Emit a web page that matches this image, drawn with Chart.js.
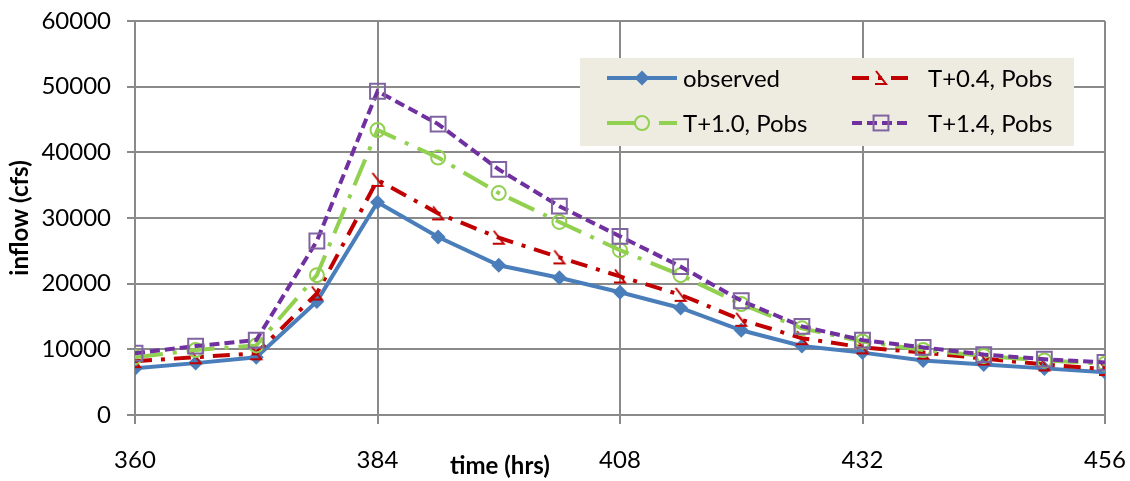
<!DOCTYPE html>
<html lang="en">
<head>
  <meta charset="UTF-8" />
  <title>Inflow vs time</title>
  <script src="https://cdn.jsdelivr.net/npm/chart.js"></script>
  <style>
    body {
      margin: 0;
      background: #ffffff;
    }

    .chart-container {
      width: 1130px;
      height: 481px;
    }
  </style>
</head>
<body>
  <div class="chart-container">
    <canvas id="flowChart"></canvas>
  </div>

  <script>
    // hours and inflow (cfs)
    const hours = [360, 366, 372, 378, 384, 390, 396, 402, 408, 414, 420, 426, 432, 438, 444, 450, 456];
    const observed = [7100, 7900, 8800, 17300, 32400, 27100, 22800, 20900, 18700, 16300, 12900, 10500, 9500, 8300, 7700, 7100, 6500];
    const tPlus04 = [8200, 8800, 9400, 18500, 35800, 30700, 27000, 24000, 21100, 18300, 14500, 11700, 10300, 9500, 8600, 7700, 7000];
    const tPlus10 = [8800, 9900, 10600, 21300, 43400, 39200, 33800, 29400, 25100, 21300, 16900, 13200, 11200, 9900, 9000, 8300, 7800];
    const tPlus14 = [9400, 10500, 11400, 26500, 49300, 44300, 37400, 31800, 27200, 22600, 17400, 13500, 11400, 10300, 9200, 8500, 8000];
    const seriesNames = ['observed', 'T+0.4, Pobs', 'T+1.0, Pobs', 'T+1.4, Pobs'];

    const FONT = 'Lato, "Open Sans", sans-serif';
    const gridColor = '#8a8a8a';

    // open triangle marker, only two sides show like in the original
    const triMarker = document.createElement('canvas');
    triMarker.width = 20;
    triMarker.height = 20;
    (function () {
      const c = triMarker.getContext('2d');
      c.strokeStyle = '#c00000';
      c.lineWidth = 2;
      c.beginPath();
      c.moveTo(5, 3);
      c.lineTo(15, 16);
      c.lineTo(4, 16);
      c.stroke();
    })();

    const toPts = arr => arr.map((v, i) => ({ x: hours[i], y: v }));

    const datasets = [
      {
        label: seriesNames[0],
        data: toPts(observed),
        borderColor: '#4a7ebb',
        backgroundColor: '#4a7ebb',
        borderWidth: 4,
        pointStyle: 'rectRot',
        pointRadius: 7.5,
        pointBorderWidth: 0,
        order: 3
      },
      {
        label: seriesNames[1],
        data: toPts(tPlus04),
        borderColor: '#c00000',
        borderWidth: 4,
        borderDash: [17, 9, 4, 9],
        pointStyle: triMarker,
        pointRadius: 8,
        order: 2
      },
      {
        label: seriesNames[2],
        data: toPts(tPlus10),
        borderColor: '#92d050',
        borderWidth: 4,
        borderDash: [28, 10, 4, 10],
        pointStyle: 'circle',
        pointRadius: 7,
        pointBorderWidth: 2,
        pointBackgroundColor: 'rgba(0,0,0,0)',
        pointBorderColor: '#92d050',
        order: 1
      },
      {
        label: seriesNames[3],
        data: toPts(tPlus14),
        borderColor: '#7030a0',
        borderWidth: 4,
        borderDash: [10, 5],
        pointStyle: 'rect',
        pointRadius: 10.5,
        pointBorderWidth: 2,
        pointBackgroundColor: 'rgba(0,0,0,0)',
        pointBorderColor: '#8064a2',
        order: 0
      }
    ];

    function drawMarker(ctx, ds, x, y) {
      ctx.save();
      ctx.setLineDash([]);
      if (ds.pointStyle === triMarker) {
        ctx.drawImage(triMarker, x - 10, y - 10);
      } else if (ds.pointStyle === 'rectRot') {
        const r = ds.pointRadius;
        ctx.fillStyle = ds.backgroundColor;
        ctx.beginPath();
        ctx.moveTo(x, y - r);
        ctx.lineTo(x + r, y);
        ctx.lineTo(x, y + r);
        ctx.lineTo(x - r, y);
        ctx.closePath();
        ctx.fill();
      } else if (ds.pointStyle === 'circle') {
        ctx.strokeStyle = ds.pointBorderColor;
        ctx.lineWidth = 2;
        ctx.fillStyle = '#eeebe1';
        ctx.beginPath();
        ctx.arc(x, y, ds.pointRadius, 0, Math.PI * 2);
        ctx.fill();
        ctx.stroke();
      } else {
        const s = ds.pointRadius * Math.SQRT1_2;
        ctx.strokeStyle = ds.pointBorderColor;
        ctx.lineWidth = 2;
        ctx.strokeRect(x - s, y - s, 2 * s, 2 * s);
      }
      ctx.restore();
    }

    // Excel style boxed legend inside the plot, plus the x axis title
    const legendBox = {
      id: 'legendBox',
      afterDatasetsDraw(chart) {
        const ctx = chart.ctx;
        const ca = chart.chartArea;
        const bx = ca.left + 445, by = ca.top + 37, bw = 494, bh = 88;
        ctx.save();
        ctx.fillStyle = '#eeebe1';
        ctx.fillRect(bx, by, bw, bh);

        const cells = [
          { ds: 0, x: bx + 27, y: by + 20 },
          { ds: 1, x: bx + 272, y: by + 20 },
          { ds: 2, x: bx + 27, y: by + 65 },
          { ds: 3, x: bx + 272, y: by + 65 }
        ];
        cells.forEach(c => {
          const ds = datasets[c.ds];
          const len = c.ds % 2 === 0 ? 70 : 58;
          ctx.strokeStyle = ds.borderColor;
          ctx.lineWidth = ds.borderWidth;
          ctx.setLineDash(ds.borderDash || []);
          ctx.beginPath();
          ctx.moveTo(c.x, c.y);
          ctx.lineTo(c.x + len, c.y);
          ctx.stroke();
          drawMarker(ctx, ds, c.x + len / 2, c.y);
          ctx.fillStyle = '#000000';
          ctx.font = '24px ' + FONT;
          ctx.textBaseline = 'middle';
          ctx.textAlign = 'left';
          ctx.fillText(ds.label, c.x + len + 6 + (c.ds % 2) * 12, c.y + 1);
        });

        ctx.font = 'bold 24px ' + FONT;
        ctx.textAlign = 'center';
        ctx.textBaseline = 'middle';
        ctx.fillText('time (hrs)', 500, 466);
        ctx.restore();
      }
    };

    new Chart(document.getElementById('flowChart'), {
      type: 'line',
      data: { datasets: datasets },
      options: {
        responsive: true,
        maintainAspectRatio: false,
        animation: false,
        layout: {
          padding: { top: 21, right: 25, left: 0, bottom: 0 }
        },
        plugins: {
          legend: { display: false },
          tooltip: { enabled: false }
        },
        elements: {
          line: { tension: 0, fill: false }
        },
        scales: {
          x: {
            type: 'linear',
            min: 360,
            max: 456,
            afterFit: s => {
              s.height = 66;
              s.paddingLeft = 0;
              s.paddingRight = 0;
            },
            ticks: {
              stepSize: 24,
              padding: 22,
              color: '#000000',
              font: { family: FONT, size: 24 }
            },
            grid: {
              color: gridColor,
              lineWidth: 2,
              tickLength: 9
            },
            border: { color: gridColor, width: 2 }
          },
          y: {
            min: 0,
            max: 60000,
            afterFit: s => {
              s.width = 135;
              s.paddingTop = 0;
              s.paddingBottom = 0;
            },
            title: {
              display: true,
              text: 'inflow (cfs)',
              color: '#000000',
              font: { family: FONT, size: 24, weight: 'bold' },
              padding: { top: 6, bottom: 0 }
            },
            ticks: {
              stepSize: 10000,
              padding: 16,
              color: '#000000',
              font: { family: FONT, size: 24 },
              callback: v => String(v)
            },
            grid: {
              color: gridColor,
              lineWidth: 2,
              tickLength: 8
            },
            border: { color: gridColor, width: 2 }
          }
        }
      },
      plugins: [legendBox]
    });
  </script>
</body>
</html>
